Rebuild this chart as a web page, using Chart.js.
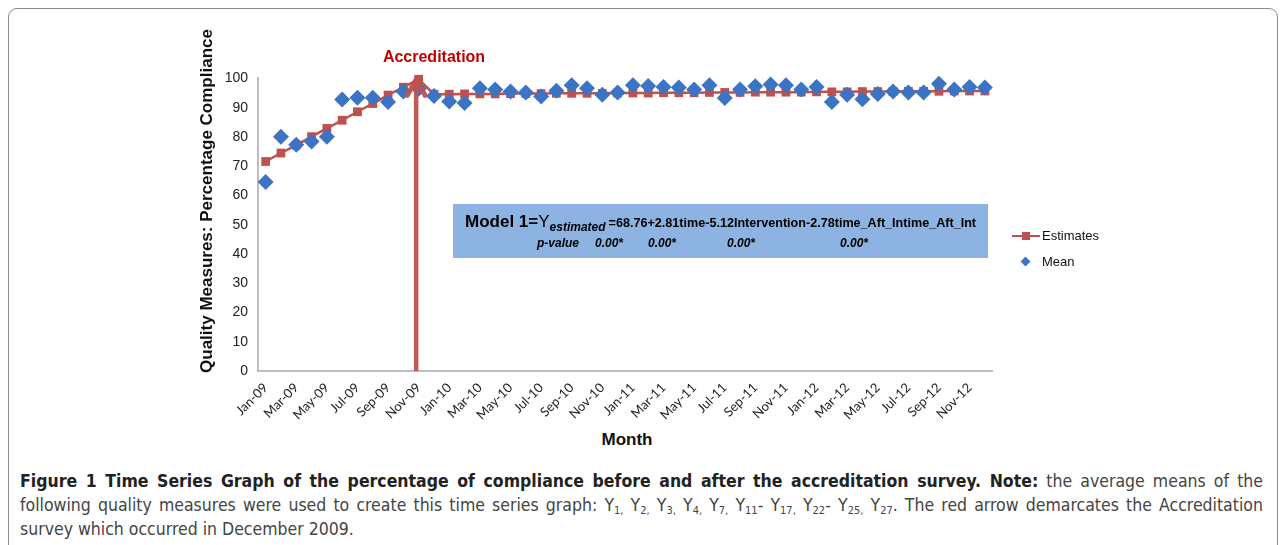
<!DOCTYPE html>
<html>
<head>
<meta charset="utf-8">
<script src="https://cdn.jsdelivr.net/npm/chart.js@4/dist/chart.umd.min.js"></script>
<style>
  body { margin: 0; background: #fff; width: 1282px; height: 545px; overflow: hidden; position: relative; font-family: "Liberation Sans", Arial, sans-serif; }
  #frame { position: absolute; left: 8px; top: 8px; width: 1268px; height: 560px; border: 1px solid #8a8a8a; border-radius: 9px; }
  #chart-area { position: absolute; left: 215px; top: 60px; width: 790px; height: 370px; }
  .abs { position: absolute; white-space: nowrap; }
  #ytitle { left: 7px; top: 191px; width: 400px; height: 20px; line-height: 20px; text-align: center; transform: rotate(-90deg); font-weight: bold; font-size: 17px; color: #111; }
  #xtitle { left: 577px; top: 430px; width: 100px; text-align: center; font-weight: bold; font-size: 17px; color: #111; }
  #accr { left: 364px; top: 48px; width: 140px; text-align: center; font-weight: bold; font-size: 16px; color: #c00000; }
  #model { left: 453px; top: 204px; width: 535px; height: 54px; background: #8db3e2; }
  #m1 { left: 12px; top: 8px; font-size: 12.6px; font-weight: bold; color: #000; }
  #m1 .big { font-size: 17px; }
  #m1 .y { font-size: 17px; font-weight: normal; }
  #m1 sub { font-size: 12px; font-style: italic; vertical-align: -4px; margin-right: 3px; }
  .pv { top: 32px; font-size: 12px; font-weight: bold; font-style: italic; color: #000; }
  .leg { font-size: 13px; color: #111; }
  #caption { position: absolute; left: 20px; top: 469px; width: 1243px; font-family: "DejaVu Sans Condensed", "Liberation Sans Narrow", sans-serif; font-size: 17.5px; color: #444; }
  #caption div { white-space: nowrap; height: 24px; line-height: 24px; }
  #caption .j { text-align: justify; text-align-last: justify; }
  #caption b { color: #222; }
  #caption sub { font-size: 11px; vertical-align: -3px; }
</style>
</head>
<body>
<div id="frame"></div>
<div id="chart-area"><canvas id="c" width="790" height="370"></canvas></div>
<div id="ytitle" class="abs">Quality Measures: Percentage Compliance</div>
<div id="xtitle" class="abs">Month</div>
<div id="accr" class="abs">Accreditation</div>
<div id="model" class="abs">
  <div id="m1" class="abs"><span class="big">Model 1=</span><span class="y">Y</span><sub>estimated</sub>=68.76+2.81time-5.12Intervention-2.78time_Aft_Intime_Aft_Int</div>
  <div class="abs pv" style="left:84px">p-value</div>
  <div class="abs pv" style="left:142px">0.00*</div>
  <div class="abs pv" style="left:195px">0.00*</div>
  <div class="abs pv" style="left:274px">0.00*</div>
  <div class="abs pv" style="left:387px">0.00*</div>
</div>
<div class="abs" style="left:1012px;top:235px;width:28px;height:2px;background:#c0504d"></div>
<div class="abs" style="left:1022px;top:232px;width:8px;height:8px;background:#c0504d"></div>
<div class="abs leg" style="left:1042px;top:228px">Estimates</div>
<div class="abs" style="left:1022px;top:258px;width:7px;height:7px;background:#3b74c4;transform:rotate(45deg)"></div>
<div class="abs leg" style="left:1042px;top:254px">Mean</div>
<div id="caption">
  <div class="j"><b>Figure 1 Time Series Graph of the percentage of compliance before and after the accreditation survey. Note:</b> the average means of the</div>
  <div class="j">following quality measures were used to create this time series graph: Y<sub>1,</sub> Y<sub>2,</sub> Y<sub>3,</sub> Y<sub>4,</sub> Y<sub>7,</sub> Y<sub>11</sub>- Y<sub>17,</sub> Y<sub>22</sub>- Y<sub>25,</sub> Y<sub>27</sub>. The red arrow demarcates the Accreditation</div>
  <div>survey which occurred in December 2009.</div>
</div>
<script>
const months = [
  "Jan-09", "Feb-09", "Mar-09", "Apr-09", "May-09", "Jun-09", "Jul-09", "Aug-09", "Sep-09", "Oct-09", "Nov-09", "Dec-09",
  "Jan-10", "Feb-10", "Mar-10", "Apr-10", "May-10", "Jun-10", "Jul-10", "Aug-10", "Sep-10", "Oct-10", "Nov-10", "Dec-10",
  "Jan-11", "Feb-11", "Mar-11", "Apr-11", "May-11", "Jun-11", "Jul-11", "Aug-11", "Sep-11", "Oct-11", "Nov-11", "Dec-11",
  "Jan-12", "Feb-12", "Mar-12", "Apr-12", "May-12", "Jun-12", "Jul-12", "Aug-12", "Sep-12", "Oct-12", "Nov-12", "Dec-12"
];
const estimates = [
  71.6, 74.5, 77.2, 80.1, 82.9, 85.7, 88.6, 91.4, 94.3, 97.0, 99.7,
  94.6, 94.6, 94.7, 94.7, 94.7, 94.8, 94.8, 94.8, 94.9, 94.9,
  94.9, 94.9, 95.0, 95.0, 95.0, 95.1, 95.1, 95.1, 95.2, 95.2,
  95.2, 95.3, 95.3, 95.3, 95.3, 95.4, 95.4, 95.4, 95.5, 95.5,
  95.5, 95.6, 95.6, 95.6, 95.7, 95.7, 95.7
];
const mean = [
  64.6, 80.1, 77.3, 78.4, 80.1, 92.8, 93.4, 93.4, 91.9, 95.5, 96.5, 94.0,
  92.1, 91.6, 96.6, 96.2, 95.5, 95.2, 93.8, 95.8, 97.7, 96.6, 94.4, 95.2,
  97.7, 97.4, 97.1, 96.9, 96.2, 97.7, 93.3, 96.2, 97.3, 97.9, 97.7, 96.2,
  97.1, 91.9, 94.4, 92.9, 94.7, 95.5, 95.2, 95.2, 98.2, 96.2, 97.1, 96.9
];
const yTicks = [0, 10, 20, 30, 40, 50, 60, 70, 80, 90, 100];
const accreditationIndex = 10;

const arrowPlugin = {
  id: 'arrow',
  afterDatasetsDraw(chart) {
    const ctx = chart.ctx;
    const x = chart.scales.x.getPixelForValue(accreditationIndex) - 2.5;
    const y0 = chart.scales.y.getPixelForValue(0);
    const y1 = chart.scales.y.getPixelForValue(100);
    ctx.save();
    ctx.strokeStyle = 'rgba(192, 80, 77, 0.95)';
    ctx.lineWidth = 4.5;
    ctx.beginPath();
    ctx.moveTo(x, y0);
    ctx.lineTo(x, y1 + 2);
    ctx.stroke();
    ctx.lineWidth = 5;
    ctx.lineCap = 'round';
    ctx.lineJoin = 'round';
    ctx.beginPath();
    ctx.moveTo(x - 9, y1 + 17);
    ctx.lineTo(x, y1 + 1);
    ctx.lineTo(x + 9, y1 + 17);
    ctx.stroke();
    ctx.restore();
  }
};

const loadChart = function () {
  const ctx = document.getElementById('c');
  new Chart(ctx, {
    type: 'line',
    data: {
      labels: months,
      datasets: [{
        label: 'Mean',
        data: mean,
        showLine: false,
        pointStyle: 'rectRot',
        pointRadius: 8,
        pointBackgroundColor: '#3b74c4',
        pointBorderColor: '#3b74c4',
        pointBorderWidth: 0,
        order: 0,
        clip: false
      }, {
        label: 'Estimates',
        data: estimates,
        borderColor: '#c0504d',
        borderWidth: 2.5,
        pointStyle: 'rect',
        pointRadius: 6.2,
        pointBackgroundColor: '#c0504d',
        pointBorderWidth: 0,
        tension: 0,
        order: 1,
        clip: false
      }]
    },
    options: {
      responsive: false,
      animation: false,
      layout: { padding: { top: 10, right: 10 } },
      plugins: { legend: { display: false }, tooltip: { enabled: false } },
      scales: {
        x: {
          type: 'category',
          offset: true,
          grid: { display: false, drawTicks: false },
          border: { color: '#bdbdbd', width: 2 },
          ticks: {
            autoSkip: false,
            maxRotation: 45,
            minRotation: 45,
            padding: 9,
            color: '#222',
            font: { family: 'Lato', size: 13 },
            callback: (v, i) => i % 2 === 0 ? months[i] : ''
          },
          afterFit: s => { s.height = 59; }
        },
        y: {
          min: 0,
          max: 100,
          grid: { display: false, drawTicks: false },
          border: { color: '#bdbdbd', width: 2 },
          afterBuildTicks: s => { s.ticks = yTicks.map(v => ({ value: v })); },
          ticks: {
            padding: 10,
            color: '#222',
            font: { family: 'Liberation Sans', size: 14 }
          },
          afterFit: s => { s.width = 43; }
        }
      }
    },
    plugins: [arrowPlugin]
  });
};

loadChart();
</script>
</body>
</html>
